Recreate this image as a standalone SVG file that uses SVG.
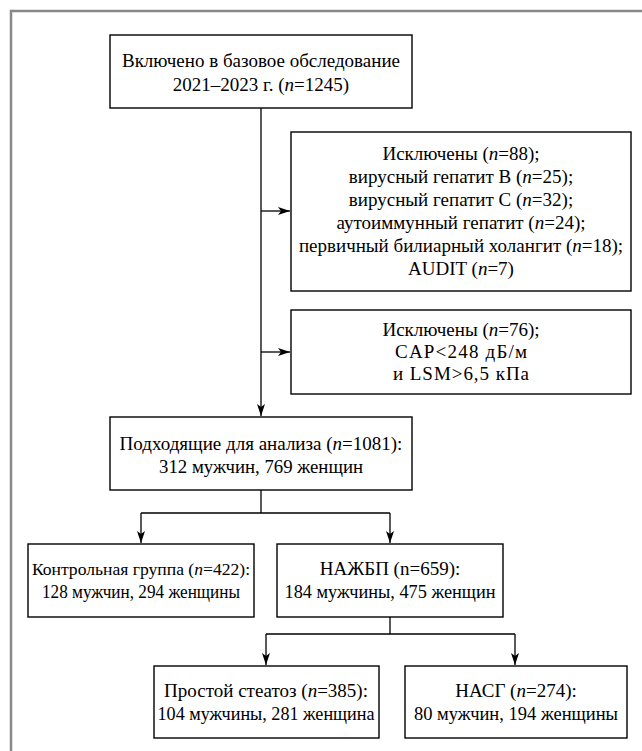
<svg xmlns="http://www.w3.org/2000/svg" width="642" height="751" viewBox="0 0 642 751">
<defs>
<style>
.box{fill:#fff;stroke:#000;stroke-width:1.4}
.t{font-family:"Liberation Serif","Times New Roman",serif;font-size:19px;fill:#000;text-anchor:middle}
.i{font-style:italic}
.c{fill:none;stroke:#000;stroke-width:1.3}
</style>
<marker id="ah" viewBox="0 0 12 8" refX="12" refY="4" markerWidth="12" markerHeight="8" markerUnits="userSpaceOnUse" orient="auto">
<path d="M0,0 L12,4 L0,8 L3,4 Z" fill="#000"/>
</marker>
</defs>
<rect x="0" y="0" width="642" height="751" fill="#fff"/>
<rect x="11" y="11" width="700" height="800" fill="none" stroke="#888" stroke-width="2.5"/>
<g id="connectors">
<path class="c" d="M261,108 V416" marker-end="url(#ah)"/>
<path class="c" d="M261,211 H290" marker-end="url(#ah)"/>
<path class="c" d="M261,352 H290" marker-end="url(#ah)"/>
<path class="c" d="M261,490 V513 M141,513 H390"/>
<path class="c" d="M141,513 V543" marker-end="url(#ah)"/>
<path class="c" d="M390,513 V543" marker-end="url(#ah)"/>
<path class="c" d="M390,617 V634 M266,634 H515"/>
<path class="c" d="M266,634 V665" marker-end="url(#ah)"/>
<path class="c" d="M515,634 V665" marker-end="url(#ah)"/>
</g>
<g id="n-start">
<rect class="box" x="110" y="35" width="302" height="73"/>
<text class="t" x="261" y="67">Включено в базовое обследование</text>
<text class="t" x="261" y="91">2021–2023 г. (<tspan class="i">n</tspan>=1245)</text>
</g>
<g id="n-excl1">
<rect class="box" x="291" y="132" width="340" height="159"/>
<text class="t" x="461" y="160">Исключены (<tspan class="i">n</tspan>=88);</text>
<text class="t" x="461" y="183">вирусный гепатит В (<tspan class="i">n</tspan>=25);</text>
<text class="t" x="461" y="206">вирусный гепатит С (<tspan class="i">n</tspan>=32);</text>
<text class="t" x="461" y="229">аутоиммунный гепатит (<tspan class="i">n</tspan>=24);</text>
<text class="t" x="461" y="252">первичный билиарный холангит (<tspan class="i">n</tspan>=18);</text>
<text class="t" x="461" y="275">AUDIT (<tspan class="i">n</tspan>=7)</text>
</g>
<g id="n-excl2">
<rect class="box" x="291" y="310" width="340" height="84"/>
<text class="t" x="461" y="336">Исключены (<tspan class="i">n</tspan>=76);</text>
<text class="t" x="461" y="358" textLength="132" lengthAdjust="spacing">CAP&lt;248 дБ/м</text>
<text class="t" x="461" y="380" textLength="136" lengthAdjust="spacing">и LSM&gt;6,5 кПа</text>
</g>
<g id="n-eligible">
<rect class="box" x="110" y="417" width="302" height="73"/>
<text class="t" x="261" y="450">Подходящие для анализа (<tspan class="i">n</tspan>=1081):</text>
<text class="t" x="261" y="473" textLength="204" lengthAdjust="spacingAndGlyphs">312 мужчин, 769 женщин</text>
</g>
<g id="n-control">
<rect class="box" x="28" y="544" width="226" height="73"/>
<text class="t" x="141" y="575" style="font-size:17.6px">Контрольная группа (<tspan class="i">n</tspan>=422):</text>
<text class="t" x="141" y="598" textLength="198" lengthAdjust="spacingAndGlyphs">128 мужчин, 294 женщины</text>
</g>
<g id="n-nafld">
<rect class="box" x="277" y="544" width="226" height="73"/>
<text class="t" x="390" y="575">НАЖБП (n=659):</text>
<text class="t" x="390" y="598" textLength="211" lengthAdjust="spacingAndGlyphs">184 мужчины, 475 женщин</text>
</g>
<g id="n-steatosis">
<rect class="box" x="154" y="666" width="225" height="72"/>
<text class="t" x="266" y="697">Простой стеатоз (<tspan class="i">n</tspan>=385):</text>
<text class="t" x="266" y="720" textLength="217" lengthAdjust="spacingAndGlyphs">104 мужчины, 281 женщина</text>
</g>
<g id="n-nash">
<rect class="box" x="405" y="666" width="222" height="72"/>
<text class="t" x="516" y="697">НАСГ (<tspan class="i">n</tspan>=274):</text>
<text class="t" x="516" y="720" textLength="204" lengthAdjust="spacingAndGlyphs">80 мужчин, 194 женщины</text>
</g>
</svg>
